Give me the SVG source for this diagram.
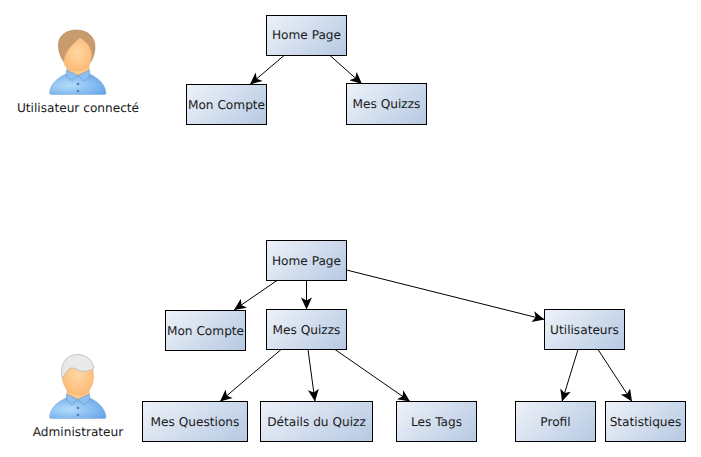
<svg xmlns="http://www.w3.org/2000/svg" width="701" height="457" viewBox="0 0 701 457">
<style>
.b{fill:url(#g);stroke:#000;stroke-width:1}
text{font-family:"DejaVu Sans",sans-serif;font-size:12.150px;fill:#1a1a1a;text-anchor:middle;text-rendering:geometricPrecision}
.c line{stroke:#000;stroke-width:1;marker-end:url(#a)}
.sh{fill:url(#sk);stroke:#eeb27a;stroke-width:.6}
.bd{fill:url(#sh);stroke:#8fb0d6;stroke-width:.7}
.col{fill:#8cc0f0;stroke:#5f8fc4;stroke-width:.5}
</style>
<defs>
<linearGradient id="g" x1="0" y1="0" x2="1.200" y2=".6"><stop offset="0" stop-color="#eef2f9"/><stop offset="1" stop-color="#b6c9e2"/></linearGradient>
<radialGradient id="sk" cx=".5" cy=".45" r=".65"><stop offset="0" stop-color="#ffd8a4"/><stop offset="1" stop-color="#fdb66e"/></radialGradient>
<radialGradient id="sh" cx=".35" cy=".55" r=".75"><stop offset="0" stop-color="#b5ddfb"/><stop offset="1" stop-color="#62a2e8"/></radialGradient>
<marker id="a" markerUnits="userSpaceOnUse" markerWidth="14" markerHeight="12" refX="12" refY="5.500" orient="auto" overflow="visible"><path d="M0 0L12 5.500L0 11L3 5.500Z" fill="#000"/></marker>
<g id="body">
<path class="bd" d="M49.500 93C50 86 55 79 66 74L90 74C100 79 105.500 86 106 93Q106 94.500 104 94.500L52 94.500Q49.500 94.500 49.500 93Z"/>
<path class="sh" d="M67 64L89 64L89 72L78 76L67 72Z"/>
<path class="col" d="M66.500 70L78 75.500L72 81L66.500 76ZM89.500 70L78 75.500L84 81L89.500 76Z"/>
<circle cx="78" cy="84" r="1.300" fill="#4f82bc"/><circle cx="78" cy="91" r="1.300" fill="#4f82bc"/>
</g>
</defs>
<g class="c">
<line x1="284" y1="55.500" x2="250" y2="84.500"/>
<line x1="330" y1="55.500" x2="362" y2="84"/>
<line x1="277" y1="280.500" x2="234" y2="310"/>
<line x1="306.500" y1="280.500" x2="306.500" y2="309.500"/>
<line x1="346.500" y1="270" x2="544.500" y2="319.500"/>
<line x1="281" y1="349.500" x2="220" y2="401.500"/>
<line x1="308" y1="349.500" x2="315" y2="401.500"/>
<line x1="335" y1="349.500" x2="410" y2="401.500"/>
<line x1="578" y1="349.500" x2="562" y2="401.500"/>
<line x1="598" y1="349.500" x2="632" y2="401.500"/>
</g>
<g id="user1">
<use href="#body"/>
<path d="M58.500 48C57 36 66 30 76 30C88 30 96 37 95 49C94.500 54 93 58 91 62L64 62C61 58 59 53 58.500 48Z" fill="#c99a6c" stroke="#ab8258" stroke-width=".5"/>
<path class="sh" d="M64 60C66 50 73 44 80 38C87 42 91.500 48 91.500 56C91.500 65 85 71 77 71C70 71 63 67 64 60Z"/>
<text x="78" y="112">Utilisateur connecté</text>
</g>
<g id="admin">
<use href="#body" y="324"/>
<path class="sh" d="M62 374C62 362 69 358 78 358C88 358 93.500 364 93.500 376C93.500 388 87 395 78 395C69 395 62 387 62 374Z"/>
<path d="M62 377C60 365 65 355 77 354.500C87 354.500 94 361 93.500 369C88 371 84 372 80 371C76 369 73 367 70 368.500C66 371 65 374 63.500 377Z" fill="#e9e9e9" stroke="#b9b9b9" stroke-width=".8"/>
<text x="78" y="436">Administrateur</text>
</g>
<g id="n1"><rect class="b" x="266.500" y="15.500" width="80" height="40"/><text x="306.500" y="39">Home Page</text></g>
<g id="n2"><rect class="b" x="186.500" y="84.500" width="80" height="40"/><text x="226.500" y="109">Mon Compte</text></g>
<g id="n3"><rect class="b" x="346.500" y="83.500" width="80" height="41"/><text x="386.500" y="108">Mes Quizzs</text></g>
<g id="n4"><rect class="b" x="266.500" y="240.500" width="80" height="40"/><text x="306.500" y="265">Home Page</text></g>
<g id="n5"><rect class="b" x="165.500" y="310.500" width="80" height="40"/><text x="205.500" y="335">Mon Compte</text></g>
<g id="n6"><rect class="b" x="266.500" y="309.500" width="80" height="40"/><text x="306.500" y="334">Mes Quizzs</text></g>
<g id="n7"><rect class="b" x="544.500" y="309.500" width="80" height="40"/><text x="584.500" y="334">Utilisateurs</text></g>
<g id="n8"><rect class="b" x="142.500" y="401.500" width="105" height="40"/><text x="195" y="426">Mes Questions</text></g>
<g id="n9"><rect class="b" x="260.500" y="401.500" width="112" height="40"/><text x="316.500" y="426">Détails du Quizz</text></g>
<g id="n10"><rect class="b" x="396.500" y="401.500" width="80" height="40"/><text x="436.500" y="426">Les Tags</text></g>
<g id="n11"><rect class="b" x="515.500" y="401.500" width="80" height="40"/><text x="555.500" y="426">Profil</text></g>
<g id="n12"><rect class="b" x="605.500" y="401.500" width="80" height="40"/><text x="645.500" y="426">Statistiques</text></g>
</svg>
